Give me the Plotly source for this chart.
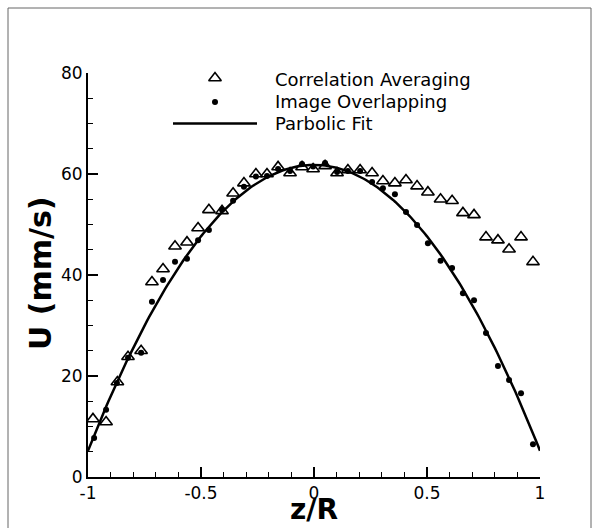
import numpy as np
import plotly.graph_objects as go

# ---- data ----
z_ca = [-0.978, -0.920, -0.870, -0.823, -0.765, -0.717, -0.668, -0.615, -0.562, -0.513,
        -0.465, -0.407, -0.358, -0.310, -0.257, -0.208, -0.159, -0.106, -0.053, -0.004,
        0.049, 0.102, 0.150, 0.204, 0.257, 0.305, 0.358, 0.407, 0.456, 0.504,
        0.560, 0.611, 0.659, 0.708, 0.761, 0.814, 0.863, 0.916, 0.969]
u_ca = [11.5, 10.9, 18.8, 23.8, 25.0, 38.6, 41.2, 45.7, 46.5, 49.3,
        52.9, 52.7, 56.2, 58.2, 60.0, 60.0, 61.4, 60.2, 61.4, 61.0,
        61.6, 60.2, 60.8, 60.8, 60.2, 58.6, 58.2, 58.8, 57.6, 56.4,
        55.0, 54.7, 52.3, 51.9, 47.5, 46.9, 45.1, 47.5, 42.6]

z_io = [-0.973, -0.920, -0.872, -0.823, -0.765, -0.717, -0.668, -0.615, -0.562, -0.513,
        -0.465, -0.407, -0.358, -0.310, -0.257, -0.208, -0.159, -0.106, -0.053, -0.004,
        0.049, 0.102, 0.150, 0.204, 0.257, 0.305, 0.358, 0.407, 0.456, 0.504,
        0.560, 0.611, 0.659, 0.708, 0.761, 0.814, 0.863, 0.916, 0.969]
u_io = [7.7, 13.3, 18.6, 23.6, 24.6, 34.7, 39.0, 42.6, 43.2, 46.9,
        48.9, 52.9, 54.7, 57.5, 59.5, 59.6, 61.0, 60.6, 62.0, 61.5,
        62.2, 60.4, 60.6, 60.6, 58.4, 57.2, 56.0, 52.5, 49.9, 46.3,
        42.8, 41.4, 36.4, 35.0, 28.5, 22.0, 19.2, 16.6, 6.5]

# parabolic fit coefficients (U = a*z^2 + b*z + c)
fit_coeffs = [-56.6, 0.0, 61.8]
z_fit = np.linspace(-1, 1, 201)
u_fit = np.polyval(fit_coeffs, z_fit)

series_names = ["Correlation Averaging", "Image Overlapping", "Parbolic Fit"]
x_ticks = [-1, -0.5, 0, 0.5, 1]
x_ticklabels = ["-1", "-0.5", "0", "0.5", "1"]
y_ticks = [0, 20, 40, 60, 80]
x_title = "z/R"
y_title = "U (mm/s)"

FONT = "DejaVu Sans"

L, R, T, B = 88, 60, 73, 51
W, H = 600, 528
pw, ph = W - L - R, H - T - B


def px(xp):
    return (xp - L) / pw


def py(yp):
    return (H - B - yp) / ph


fig = go.Figure()

fig.add_trace(go.Scatter(x=z_fit, y=u_fit, mode="lines",
                         line=dict(color="black", width=2.5),
                         showlegend=False, cliponaxis=True))
fig.add_trace(go.Scatter(x=z_ca, y=u_ca, mode="markers",
                         marker=dict(symbol="triangle-up-open", size=11, color="black",
                                     line=dict(width=1.6, color="black")),
                         showlegend=False, cliponaxis=False))
fig.add_trace(go.Scatter(x=z_io, y=u_io, mode="markers",
                         marker=dict(symbol="circle", size=6, color="black"),
                         showlegend=False, cliponaxis=False))

# ---- manual legend on a pixel-coordinate overlay axis ----
fig.add_trace(go.Scatter(x=[215], y=[78], xaxis="x2", yaxis="y2", mode="markers",
                         marker=dict(symbol="triangle-up-open", size=11, color="black",
                                     line=dict(width=1.6, color="black")),
                         showlegend=False, cliponaxis=False, hoverinfo="skip"))
fig.add_trace(go.Scatter(x=[215], y=[102], xaxis="x2", yaxis="y2", mode="markers",
                         marker=dict(symbol="circle", size=6, color="black"),
                         showlegend=False, cliponaxis=False, hoverinfo="skip"))
fig.add_trace(go.Scatter(x=[173, 257], y=[123.5, 123.5], xaxis="x2", yaxis="y2", mode="lines",
                         line=dict(color="black", width=2.5),
                         showlegend=False, cliponaxis=False, hoverinfo="skip"))
for name, yy in zip(series_names, [79, 101.5, 123.5]):
    fig.add_annotation(x=px(273), y=py(yy), xref="paper", yref="paper", text=name,
                       showarrow=False, xanchor="left", yanchor="middle",
                       font=dict(family=FONT, size=18, color="black"))

# axis titles
fig.add_annotation(x=px(314), y=py(528), xref="paper", yref="paper",
                   text="<b>" + x_title + "</b>",
                   showarrow=False, xanchor="center", yanchor="bottom",
                   font=dict(family=FONT, size=28, color="black"))
fig.add_annotation(x=px(40), y=py(273), xref="paper", yref="paper",
                   text="<b>" + y_title + "</b>",
                   showarrow=False, xanchor="center", yanchor="middle", textangle=-90,
                   font=dict(family=FONT, size=30, color="black"))

# outer frame (bottom edge lies below the visible canvas)
fig.add_shape(type="rect", xref="paper", yref="paper",
              x0=px(8), x1=px(591), y0=py(540), y1=py(8),
              line=dict(color="#666666", width=1), layer="below")

fig.update_layout(
    width=W, height=H,
    margin=dict(l=L, r=R, t=T, b=B, autoexpand=False),
    paper_bgcolor="white", plot_bgcolor="white",
    font=dict(family=FONT, size=17, color="black"),
    xaxis=dict(range=[-1, 1], tickvals=x_ticks, ticktext=x_ticklabels,
               ticks="inside", ticklen=10, tickwidth=2, tickcolor="black",
               minor=dict(dtick=0.1, ticks="inside", ticklen=5, tickwidth=1, tickcolor="black"),
               showline=True, linecolor="black", linewidth=2, showgrid=False, zeroline=False,
               tickfont=dict(family=FONT, size=17), automargin=False),
    yaxis=dict(range=[0, 80], tickvals=y_ticks,
               ticks="inside", ticklen=10, tickwidth=2, tickcolor="black",
               minor=dict(dtick=5, ticks="inside", ticklen=5, tickwidth=1, tickcolor="black"),
               showline=True, linecolor="black", linewidth=2, showgrid=False, zeroline=False,
               tickfont=dict(family=FONT, size=17), automargin=False),
    xaxis2=dict(overlaying="x", range=[L, W - R], visible=False, fixedrange=True),
    yaxis2=dict(overlaying="y", range=[H - B, T], visible=False, fixedrange=True),
    showlegend=False,
)

fig.write_html("out.html")
